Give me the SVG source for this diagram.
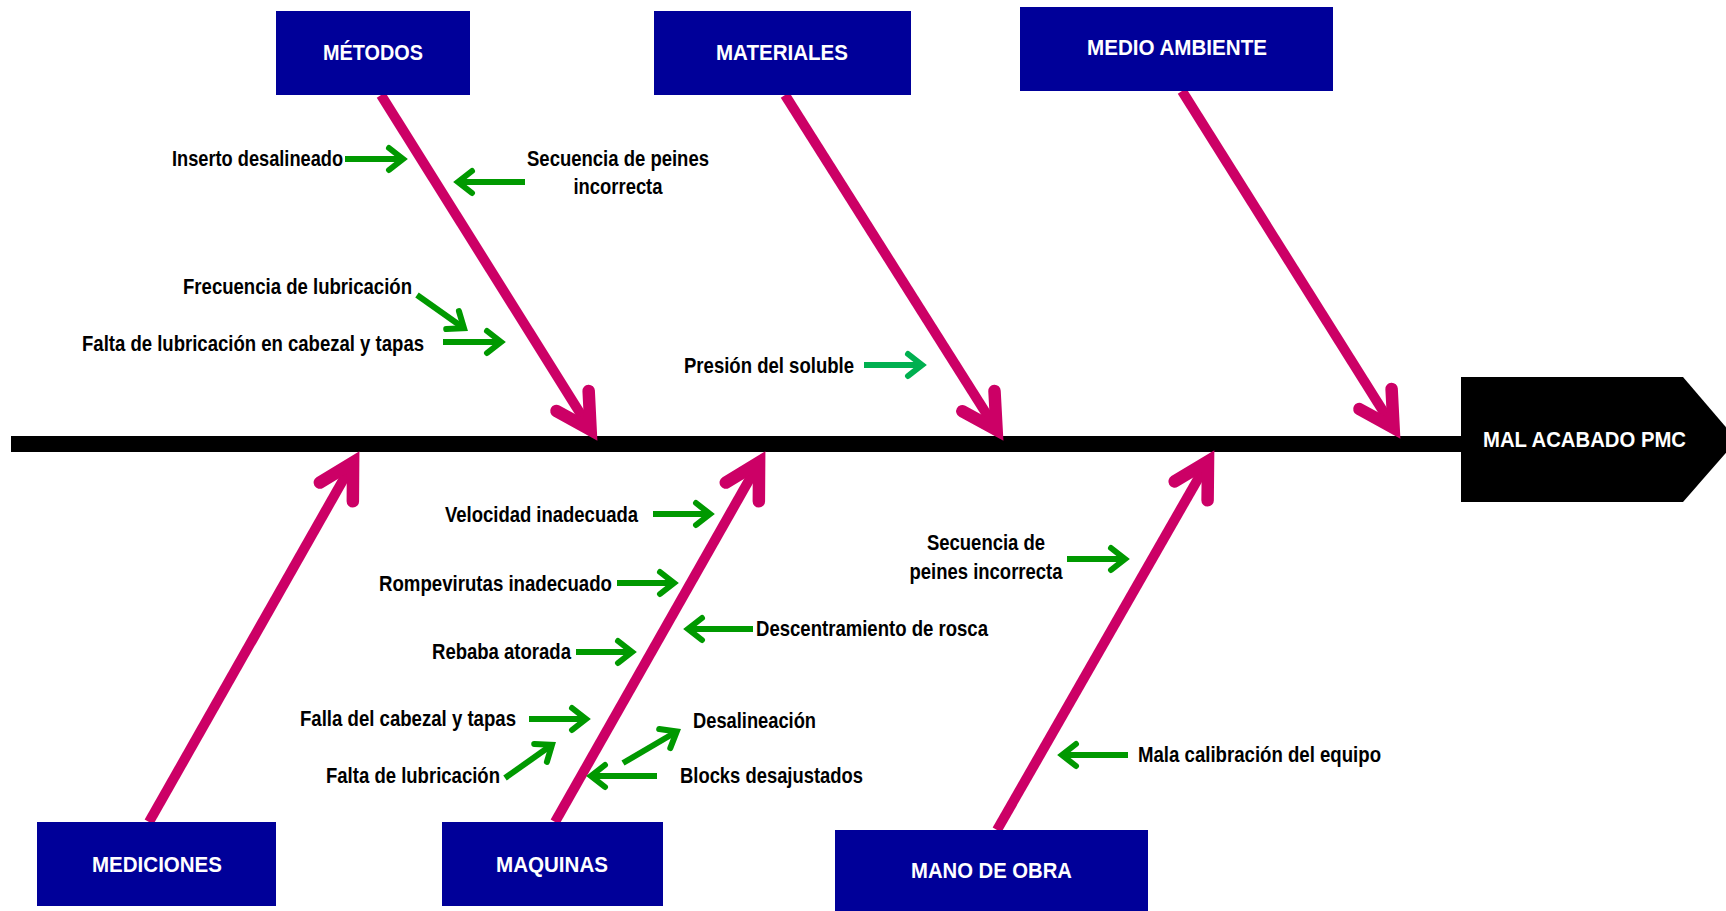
<svg xmlns="http://www.w3.org/2000/svg" width="1726" height="911" viewBox="0 0 1726 911">
  <style>
    .cat { fill: #000099; }
    .cat-label { font-family: "Liberation Sans", Arial, sans-serif; font-weight: bold; font-size: 21.5px; fill: #ffffff; text-anchor: middle; }
    .cause { font-family: "Liberation Sans Narrow", "Liberation Sans", Arial, sans-serif; font-stretch: condensed; font-weight: bold; font-size: 22.5px; fill: #000000; }
    .mid { text-anchor: middle; }
    .bone { fill: none; stroke: #CC0066; stroke-width: 10; stroke-linecap: butt; marker-end: url(#boneHead); }
    .twig { fill: none; stroke: #009900; stroke-width: 6; stroke-linecap: butt; marker-end: url(#twigHead); }
    .twig-lt { fill: none; stroke: #00B050; stroke-width: 6; stroke-linecap: butt; marker-end: url(#twigHeadLt); }
  </style>
  <defs>
    <marker id="boneHead" markerUnits="userSpaceOnUse" orient="auto" refX="0" refY="0" markerWidth="10" markerHeight="10" overflow="visible">
      <path d="M -34,-19 L 0,0 L -34,19" fill="none" stroke="#CC0066" stroke-width="12.5" stroke-linecap="round" stroke-linejoin="miter" stroke-miterlimit="10"/>
    </marker>
    <marker id="twigHead" markerUnits="userSpaceOnUse" orient="auto" refX="0" refY="0" markerWidth="10" markerHeight="10" overflow="visible">
      <path d="M -14,-11 L 0,0 L -14,11" fill="none" stroke="#009900" stroke-width="6" stroke-linecap="round" stroke-linejoin="miter" stroke-miterlimit="10"/>
    </marker>
    <marker id="twigHeadLt" markerUnits="userSpaceOnUse" orient="auto" refX="0" refY="0" markerWidth="10" markerHeight="10" overflow="visible">
      <path d="M -14,-11 L 0,0 L -14,11" fill="none" stroke="#00B050" stroke-width="6" stroke-linecap="round" stroke-linejoin="miter" stroke-miterlimit="10"/>
    </marker>
  </defs>

  <rect width="1726" height="911" fill="#ffffff"/>

  <!-- spine and effect head -->
  <g id="spine">
    <rect x="11" y="436" width="1452" height="16" fill="#000000"/>
  </g>
  <g id="effect">
    <polygon points="1461,377 1683,377 1737,440 1683,502 1461,502" fill="#000000"/>
    <text class="cat-label" x="1584.5" y="447" textLength="203" lengthAdjust="spacingAndGlyphs">MAL ACABADO PMC</text>
  </g>

  <!-- main bones and cause arrows -->
  <g id="connectors">
    <path class="bone" d="M 381,95 L 590.6,429.8"/>
    <path class="bone" d="M 785,95 L 996.6,429.9"/>
    <path class="bone" d="M 1182,91 L 1393.6,427.8"/>
    <path class="bone" d="M 149,822 L 353.1,462.4"/>
    <path class="bone" d="M 555,822 L 759.1,462.4"/>
    <path class="bone" d="M 997,830 L 1208,461.4"/>

    <path class="twig" d="M 345,159 L 403,159"/>
    <path class="twig" d="M 525,182 L 458,182"/>
    <path class="twig" d="M 417,295 L 464,328.2"/>
    <path class="twig" d="M 443,342 L 501,342"/>
    <path class="twig-lt" d="M 864,365 L 922,365"/>
    <path class="twig" d="M 653,514 L 710,514"/>
    <path class="twig" d="M 617,583 L 674,583"/>
    <path class="twig" d="M 753,629 L 688,629"/>
    <path class="twig" d="M 576,652 L 632,652"/>
    <path class="twig" d="M 529,719 L 586,719"/>
    <path class="twig" d="M 505,778 L 552,744.8"/>
    <path class="twig" d="M 623,763 L 676.8,731.5"/>
    <path class="twig" d="M 657,776 L 591,776"/>
    <path class="twig" d="M 1067,559 L 1125,559"/>
    <path class="twig" d="M 1128,755 L 1062,755"/>
  </g>

  <!-- category boxes -->
  <g id="metodos">
    <rect class="cat" x="276" y="11" width="194" height="84"/>
    <text class="cat-label" x="373" y="59.5" textLength="100" lengthAdjust="spacingAndGlyphs">MÉTODOS</text>
  </g>
  <g id="materiales">
    <rect class="cat" x="654" y="11" width="257" height="84"/>
    <text class="cat-label" x="782" y="60" textLength="132" lengthAdjust="spacingAndGlyphs">MATERIALES</text>
  </g>
  <g id="medio-ambiente">
    <rect class="cat" x="1020" y="7" width="313" height="84"/>
    <text class="cat-label" x="1177" y="55" textLength="180" lengthAdjust="spacingAndGlyphs">MEDIO AMBIENTE</text>
  </g>
  <g id="mediciones">
    <rect class="cat" x="37" y="822" width="239" height="84"/>
    <text class="cat-label" x="157" y="872" textLength="130" lengthAdjust="spacingAndGlyphs">MEDICIONES</text>
  </g>
  <g id="maquinas">
    <rect class="cat" x="442" y="822" width="221" height="84"/>
    <text class="cat-label" x="552" y="872" textLength="112" lengthAdjust="spacingAndGlyphs">MAQUINAS</text>
  </g>
  <g id="mano-de-obra">
    <rect class="cat" x="835" y="830" width="313" height="90"/>
    <text class="cat-label" x="991.5" y="878" textLength="161" lengthAdjust="spacingAndGlyphs">MANO DE OBRA</text>
  </g>

  <!-- cause labels -->
  <g id="causes">
    <text class="cause" x="172" y="166" textLength="171" lengthAdjust="spacingAndGlyphs">Inserto desalineado</text>
    <text class="cause mid" x="618" y="166" textLength="182" lengthAdjust="spacingAndGlyphs">Secuencia de peines</text>
    <text class="cause mid" x="618" y="194" textLength="89" lengthAdjust="spacingAndGlyphs">incorrecta</text>
    <text class="cause" x="183" y="294" textLength="229" lengthAdjust="spacingAndGlyphs">Frecuencia de lubricación</text>
    <text class="cause" x="82" y="351" textLength="342" lengthAdjust="spacingAndGlyphs">Falta de lubricación en cabezal y tapas</text>
    <text class="cause" x="684" y="373" textLength="170" lengthAdjust="spacingAndGlyphs">Presión del soluble</text>
    <text class="cause" x="445" y="522" textLength="193" lengthAdjust="spacingAndGlyphs">Velocidad inadecuada</text>
    <text class="cause" x="379" y="591" textLength="233" lengthAdjust="spacingAndGlyphs">Rompevirutas inadecuado</text>
    <text class="cause" x="756" y="636" textLength="232" lengthAdjust="spacingAndGlyphs">Descentramiento de rosca</text>
    <text class="cause" x="432" y="659" textLength="139" lengthAdjust="spacingAndGlyphs">Rebaba atorada</text>
    <text class="cause" x="300" y="726" textLength="216" lengthAdjust="spacingAndGlyphs">Falla del cabezal y tapas</text>
    <text class="cause" x="693" y="728" textLength="123" lengthAdjust="spacingAndGlyphs">Desalineación</text>
    <text class="cause" x="326" y="783" textLength="174" lengthAdjust="spacingAndGlyphs">Falta de lubricación</text>
    <text class="cause" x="680" y="783" textLength="183" lengthAdjust="spacingAndGlyphs">Blocks desajustados</text>
    <text class="cause mid" x="986" y="550" textLength="118" lengthAdjust="spacingAndGlyphs">Secuencia de</text>
    <text class="cause mid" x="986" y="579" textLength="153" lengthAdjust="spacingAndGlyphs">peines incorrecta</text>
    <text class="cause" x="1138" y="762" textLength="243" lengthAdjust="spacingAndGlyphs">Mala calibración del equipo</text>
  </g>
</svg>
